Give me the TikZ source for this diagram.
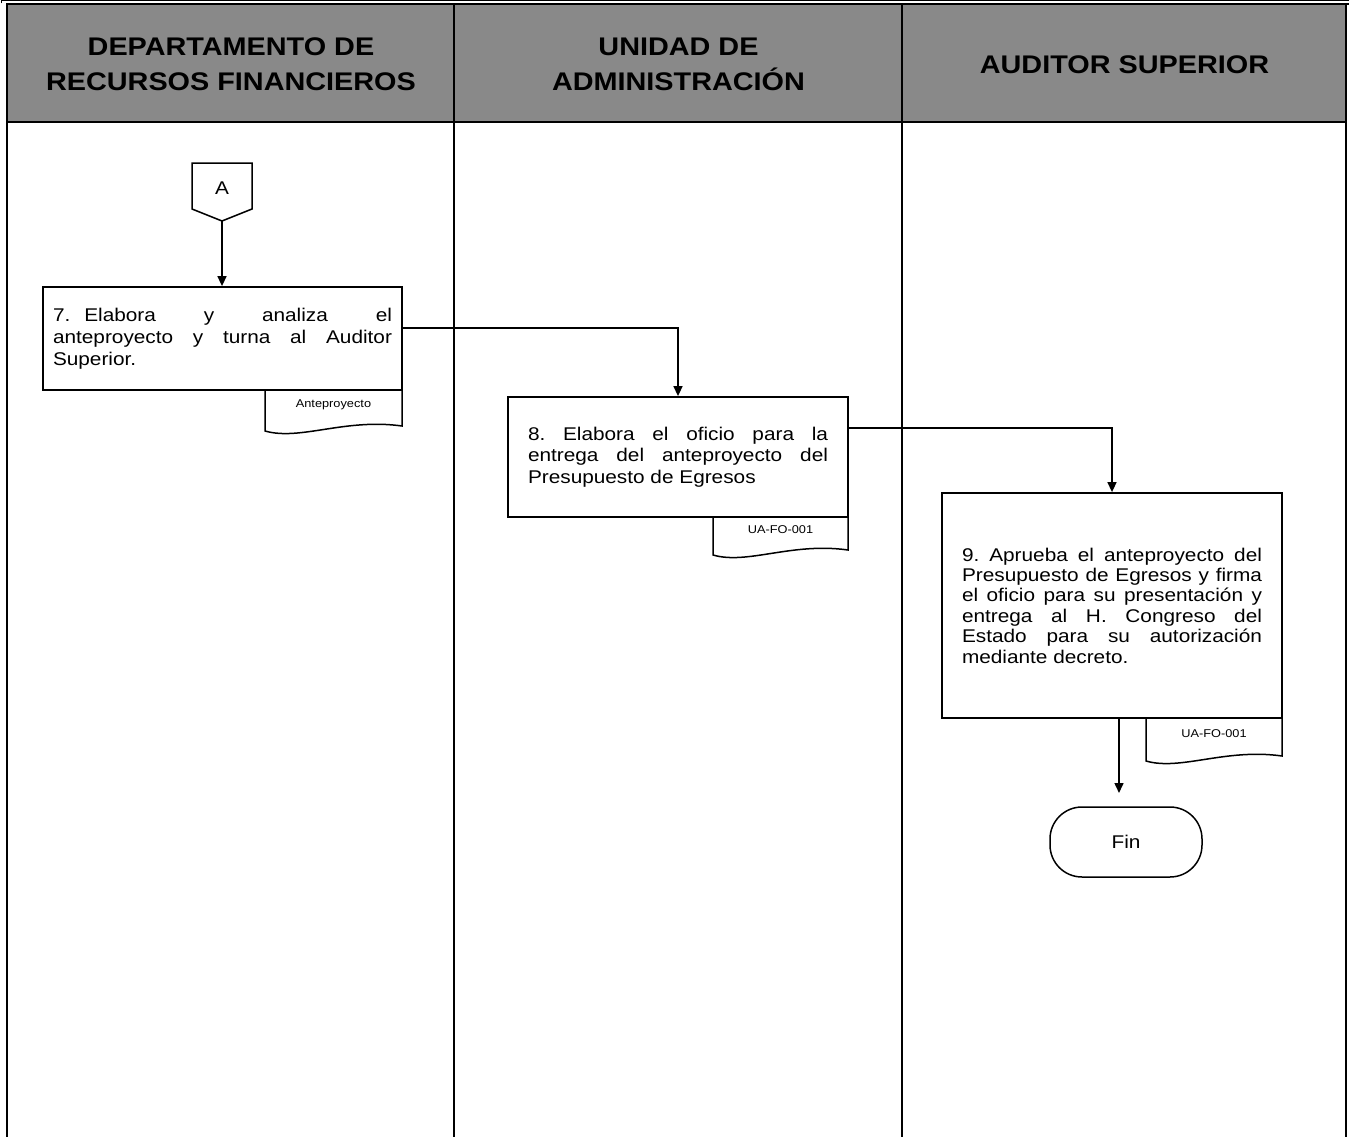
\documentclass[tikz,border=0pt]{standalone}
\usepackage{fontspec}
\setmainfont{Liberation Sans}[FakeStretch=1.13]
\usetikzlibrary{arrows.meta}
\definecolor{hdrgray}{RGB}{137,137,137}
\hyphenpenalty=10000
\exhyphenpenalty=10000
\tolerance=9999
\frenchspacing
\begin{document}
\begin{tikzpicture}[x=1pt,y=-1pt,
  lane/.style={line width=2.5pt},
  procbox/.style={draw, line width=1.8pt, fill=white, align=justify, inner ysep=0pt},
  bodyfont/.style={font=\fontsize{18.4}{21.5}\selectfont},
  flow/.style={line width=1.5pt, -{Triangle[length=10pt,width=9pt]}},
  docline/.style={line width=1.5pt, fill=white},
  doctext/.style={font=\fontsize{11.3}{13}\selectfont},
  hdr/.style={font=\fontsize{25.5}{30}\selectfont\bfseries, anchor=base},
]
\useasboundingbox (0,0) rectangle (1349,1137);

% header band and frame
\fill[hdrgray] (7,4) rectangle (1346,122);
\draw[line width=1pt] (1.5,3.5) -- (1.5,0.5) -- (1349,0.5);
\draw[line width=1.6pt] (6,4.2) -- (1349,4.2);
\draw[lane] (7,4) -- (7,1137);
\draw[lane] (454,4) -- (454,1137);
\draw[lane] (902,4) -- (902,1137);
\draw[lane] (1346,4) -- (1346,1137);
\draw[lane] (7,122) -- (1346,122);

% lane titles
\node[hdr] (h1a) at (231,56) {DEPARTAMENTO DE};
\node[hdr] (h1b) at (231,91) {RECURSOS FINANCIEROS};
\node[hdr] (h2a) at (678.5,56) {UNIDAD DE};
\node[hdr] (h2b) at (678.5,91) {ADMINISTRACIÓN};
\node[hdr] (h3) at (1124.5,74) {AUDITOR SUPERIOR};

% off-page connector A
\draw[line width=1.5pt, fill=white] (192,163) -- (252,163) -- (252,209) -- (222,221) -- (192,209) -- cycle;
\node[bodyfont] (conA) at (222,188) {A};
\coordinate (conAtip) at (222,221);

% document tabs (drawn first, boxes overlap their top edge)
\draw[docline] (265,390) -- (265,431) .. controls (300,441) and (345,418) .. (402,426) -- (402,390);
\draw[docline] (713,517) -- (713,555) .. controls (747.4,565) and (791.8,542) .. (848,550) -- (848,517);
\draw[docline] (1146,718) -- (1146,761) .. controls (1180.7,771) and (1225.4,748) .. (1282,756) -- (1282,718);
\node[doctext] (doc7) at (333.5,405) {Anteproyecto};
\node[doctext] (doc8) at (780.5,530) {UA-FO-001};
\node[doctext] (doc9) at (1214,734) {UA-FO-001};

% process steps
\node[procbox, font=\fontsize{18.4}{22}\selectfont, text width=339pt, inner xsep=10pt, minimum height=103pt] (box7) at (222.5,338.5)
  {\rightskip=11pt\relax\noindent 7.\hspace*{14pt}Elabora y analiza el\linebreak anteproyecto y turna al Auditor\linebreak Superior.};
\node[procbox, bodyfont, text width=300pt, inner xsep=20pt, minimum height=120pt] (box8) at (678,457)
  {\noindent 8. Elabora el oficio para la\linebreak entrega del anteproyecto del\linebreak Presupuesto de Egresos};
\node[procbox, font=\fontsize{18.4}{20.4}\selectfont, text width=300pt, inner xsep=20pt, minimum height=225pt] (box9) at (1112,605.5)
  {\noindent 9. Aprueba el anteproyecto del\linebreak Presupuesto de Egresos y firma\linebreak el oficio para su presentación y\linebreak entrega al H. Congreso del\linebreak Estado para su autorización\linebreak mediante decreto.};

% terminator
\node[draw, line width=1.5pt, rounded corners=32pt, minimum width=152pt, minimum height=70pt, bodyfont] (fin) at (1126,842) {Fin};
\coordinate (finIn) at (1119,793);

% connectors
\draw[flow] (conAtip) -- (box7.north -| conAtip);
\draw[flow] ([yshift=10.5pt]box7.east) -| (box8.north);
\draw[flow] ([yshift=29pt]box8.east) -| (box9.north);
\draw[flow] (box9.south -| finIn) -- (finIn);
\end{tikzpicture}
\end{document}
